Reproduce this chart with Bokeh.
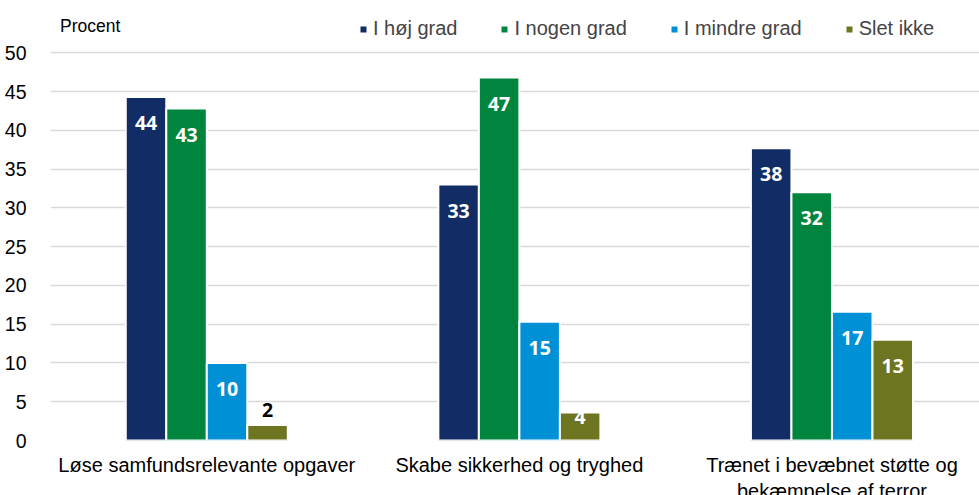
from bokeh.plotting import figure
from bokeh.models import Range1d, FixedTicker, Legend, LegendItem, ColumnDataSource, Label
from bokeh.core.properties import value
from bokeh.embed import file_html
from bokeh.resources import INLINE

categories = ["Løse samfundsrelevante opgaver", "Skabe sikkerhed og tryghed",
              "Trænet i bevæbnet støtte og\nbekæmpelse af terror"]
series = ["I høj grad", "I nogen grad", "I mindre grad", "Slet ikke"]
hoej = [44.3, 33.0, 37.7]
nogen = [42.8, 46.8, 32.0]
mindre = [10.0, 15.3, 16.6]
slet = [2.0, 3.6, 13.0]
yticks = [0, 5, 10, 15, 20, 25, 30, 35, 40, 45, 50]
y_unit_label = "Procent"

colors = ["#122D66", "#00853E", "#0090D5", "#6D7520"]
values_by_series = [hoej, nogen, mindre, slet]

step = 0.1296
FONT = "Liberation Sans"
Y_TOP = 56.74   # headroom above 50 so the legend sits inside the frame

p = figure(width=979, height=504, output_backend="svg", toolbar_location=None,
           x_range=Range1d(0, 2.972), y_range=Range1d(0, Y_TOP),
           min_border_left=50, min_border_right=0, min_border_top=0, min_border_bottom=50)
p.outline_line_color = None
p.background_fill_color = "white"

items = []
lx, ly, ltxt, lcol, loff = [], [], [], [], []
for si, (name, vals, col) in enumerate(zip(series, values_by_series, colors)):
    xs = [gi + 0.5 + (si - 1.5) * step for gi in range(len(categories))]
    src = ColumnDataSource(dict(x=xs, top=vals))
    r = p.vbar(x="x", top="top", width=step, source=src, fill_color=col,
               line_color="white", line_width=2)
    items.append(LegendItem(label=name, renderers=[r]))
    for x, v in zip(xs, vals):
        lx.append(x)
        ly.append(v)
        ltxt.append(str(int(round(v))))
        if v >= 8:
            lcol.append("white"); loff.append(26)
        elif v >= 3:
            lcol.append("white"); loff.append(4)
        else:
            lcol.append("black"); loff.append(-15)

lsrc = ColumnDataSource(dict(x=lx, y=ly, t=ltxt, c=lcol, o=loff))
p.text(x="x", y="y", text="t", source=lsrc, text_color="c", y_offset="o",
       text_align="center", text_baseline="middle",
       text_font=value("Open Sans"), text_font_size="19.5px", text_font_style="bold")

# axes
p.yaxis.ticker = FixedTicker(ticks=yticks)
p.yaxis.axis_line_color = None
p.yaxis.major_tick_line_color = None
p.yaxis.minor_tick_line_color = None
p.yaxis.major_label_standoff = 18
p.yaxis.major_label_text_font = FONT
p.yaxis.major_label_text_font_size = "19.5px"
p.yaxis.major_label_text_color = "black"

p.xaxis.ticker = FixedTicker(ticks=[i + 0.5 for i in range(len(categories))])
p.xaxis.major_label_overrides = {i + 0.5: c for i, c in enumerate(categories)}
p.xaxis.axis_line_color = None
p.xaxis.major_tick_line_color = None
p.xaxis.minor_tick_line_color = None
p.xaxis.major_label_standoff = 7
p.xaxis.major_label_text_font = FONT
p.xaxis.major_label_text_font_size = "20px"
p.xaxis.major_label_text_color = "black"

p.xgrid.grid_line_color = None
p.ygrid.ticker = FixedTicker(ticks=yticks)
p.ygrid.grid_line_color = "#D9D9D9"
p.ygrid.grid_line_width = 1.5

p.add_layout(Label(x=0, y=53.5, x_offset=9.5, text=y_unit_label, text_font=FONT,
                   text_font_size="17.5px", text_color="black", text_baseline="middle"))

legend = Legend(items=items, orientation="horizontal", location=(308, 400),
                glyph_width=10, glyph_height=10, label_standoff=5, spacing=42,
                padding=0, margin=0, border_line_color=None, background_fill_alpha=0,
                label_text_font=FONT, label_text_font_size="20px", label_height=20)
p.add_layout(legend, "center")

open("out.html", "w").write(file_html(p, INLINE))
